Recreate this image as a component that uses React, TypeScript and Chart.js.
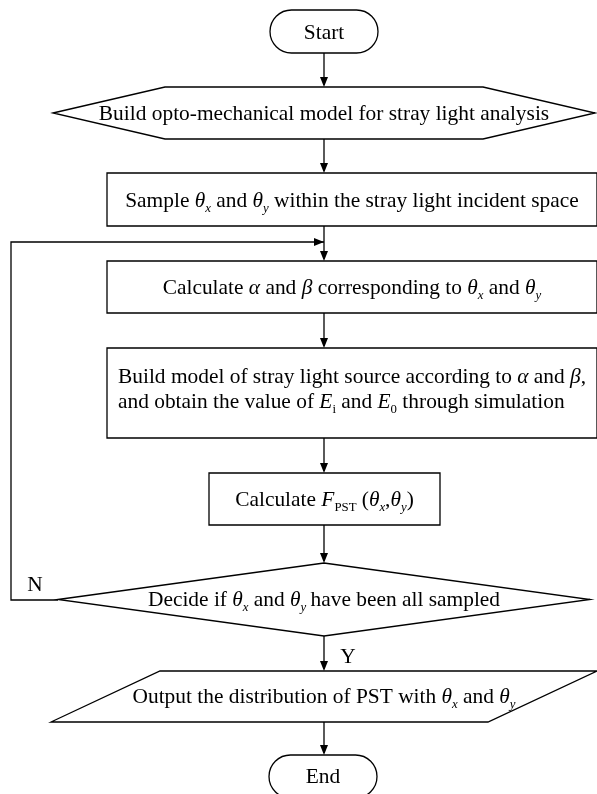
import React, { useEffect, useRef } from "react";
import { Chart, registerables } from "chart.js";
Chart.register(...registerables);

type Seg = { t: string; it?: boolean; sub?: boolean };

const W = 597;
const H = 794;
const FONT = '"Liberation Serif", "Times New Roman", serif';
const FS = 21.4;

// ---- flowchart content ----
const nodeShapes = ["terminal", "hexagon", "rect", "rect", "rect", "rect", "diamond", "parallelogram", "terminal"];

const th = (s: string): Seg[] => [{ t: "θ", it: true }, { t: s, it: true, sub: true }];

const nodeLabels: Seg[][][] = [
  [[{ t: "Start" }]],
  [[{ t: "Build opto-mechanical model for stray light analysis" }]],
  [[{ t: "Sample " }, ...th("x"), { t: " and " }, ...th("y"), { t: " within the stray light incident space" }]],
  [[{ t: "Calculate " }, { t: "α", it: true }, { t: " and " }, { t: "β", it: true }, { t: " corresponding to " }, ...th("x"), { t: " and " }, ...th("y")]],
  [
    [{ t: "Build model of stray light source according to " }, { t: "α", it: true }, { t: " and " }, { t: "β", it: true }, { t: "," }],
    [{ t: "and obtain the value of " }, { t: "E", it: true }, { t: "i", sub: true }, { t: " and " }, { t: "E", it: true }, { t: "0", sub: true }, { t: " through simulation" }],
  ],
  [[{ t: "Calculate " }, { t: "F", it: true }, { t: "PST", sub: true }, { t: " (" }, ...th("x"), { t: "," }, ...th("y"), { t: ")" }]],
  [[{ t: "Decide if " }, ...th("x"), { t: " and " }, ...th("y"), { t: "\u2009have been all sampled" }]],
  [[{ t: "Output the distribution of PST with " }, ...th("x"), { t: " and " }, ...th("y")]],
  [[{ t: "End" }]],
];

// ---- layout (chart value units) ----
const nodeLeft = [270, 53, 107, 107, 107, 209, 58, 51, 269];
const nodeRight = [378, 595, 597, 597, 597, 440, 590, 597, 377];
const nodeTop = [10, 87, 173, 261, 348, 473, 563, 671, 755];
const nodeBottom = [53, 139, 226, 313, 438, 525, 636, 722, 799];
const nodeTextY = [32, 113, 200, 287, 376, 499, 599, 696, 776];
const hexInset = [0, 112, 0, 0, 0, 0, 0, 109, 0];
const LINE_GAP = 25;
const FLOW_X = 324;

const loopPath: [number, number][] = [[58, 600], [11, 600], [11, 242], [324, 242]];
const edgeLabels: { t: string; x: number; y: number }[] = [
  { t: "N", x: 35, y: 584 },
  { t: "Y", x: 348, y: 656 },
];

function measure(ctx: CanvasRenderingContext2D, segs: Seg[], fs: number) {
  const parts = segs.map((s) => {
    const size = s.sub ? fs * 0.6 : fs;
    const font = `${s.it ? "italic " : ""}${size.toFixed(1)}px ${FONT}`;
    ctx.font = font;
    return { ...s, font, w: ctx.measureText(s.t).width };
  });
  return { parts, total: parts.reduce((a, p) => a + p.w, 0) };
}

function drawRich(ctx: CanvasRenderingContext2D, segs: Seg[], left: number, cy: number, fs: number) {
  const { parts } = measure(ctx, segs, fs);
  let x = left;
  const base = cy + fs * 0.34;
  ctx.textAlign = "left";
  ctx.textBaseline = "alphabetic";
  for (const p of parts) {
    ctx.font = p.font;
    ctx.fillText(p.t, x, base + (p.sub ? fs * 0.2 : 0));
    x += p.w;
  }
}

function arrowHead(ctx: CanvasRenderingContext2D, x: number, y: number, dx: number, dy: number) {
  const L = 10, Wd = 4;
  const px = -dy, py = dx;
  ctx.beginPath();
  ctx.moveTo(x, y);
  ctx.lineTo(x - dx * L + px * Wd, y - dy * L + py * Wd);
  ctx.lineTo(x - dx * L - px * Wd, y - dy * L - py * Wd);
  ctx.closePath();
  ctx.fill();
}

const flowPlugin = {
  id: "flow",
  afterDraw(chart: any) {
    const ctx: CanvasRenderingContext2D = chart.ctx;
    const sx = chart.scales.x, sy = chart.scales.y;
    const X = (v: number) => sx.getPixelForValue(v);
    const Y = (v: number) => sy.getPixelForValue(v);
    ctx.save();
    ctx.strokeStyle = "#000";
    ctx.fillStyle = "#000";
    ctx.lineWidth = 1.3;
    const cx = X(FLOW_X);

    nodeShapes.forEach((shape, i) => {
      const l = X(nodeLeft[i]), r = X(nodeRight[i]), t = Y(nodeTop[i]), b = Y(nodeBottom[i]);
      const m = (t + b) / 2;
      ctx.beginPath();
      if (shape === "rect") {
        ctx.rect(l, t, r - l, b - t);
      } else if (shape === "terminal") {
        const rad = (Y(nodeBottom[0]) - Y(nodeTop[0])) / 2;
        ctx.moveTo(l + rad, t);
        ctx.lineTo(r - rad, t);
        ctx.arc(r - rad, t + rad, rad, -Math.PI / 2, Math.PI / 2);
        ctx.lineTo(l + rad, t + 2 * rad);
        ctx.arc(l + rad, t + rad, rad, Math.PI / 2, Math.PI * 1.5);
        ctx.closePath();
      } else if (shape === "hexagon") {
        const ins = X(hexInset[i]) - X(0);
        ctx.moveTo(l, m);
        ctx.lineTo(l + ins, t);
        ctx.lineTo(r - ins, t);
        ctx.lineTo(r, m);
        ctx.lineTo(r - ins, b);
        ctx.lineTo(l + ins, b);
        ctx.closePath();
      } else if (shape === "diamond") {
        ctx.moveTo(l, m);
        ctx.lineTo(cx, t);
        ctx.lineTo(r, m);
        ctx.lineTo(cx, b);
        ctx.closePath();
      } else if (shape === "parallelogram") {
        const ins = X(hexInset[i]) - X(0);
        ctx.moveTo(l + ins, t);
        ctx.lineTo(r, t);
        ctx.lineTo(r - ins, b);
        ctx.lineTo(l, b);
        ctx.closePath();
      }
      ctx.stroke();
    });

    for (let i = 0; i < nodeShapes.length - 1; i++) {
      const y0 = Y(nodeBottom[i]), y1 = Y(nodeTop[i + 1]);
      ctx.beginPath();
      ctx.moveTo(cx, y0);
      ctx.lineTo(cx, y1 - 2);
      ctx.stroke();
      arrowHead(ctx, cx, y1, 0, 1);
    }

    ctx.beginPath();
    loopPath.forEach(([a, b], k) => {
      if (k === 0) ctx.moveTo(X(a), Y(b));
      else ctx.lineTo(X(a), Y(b));
    });
    ctx.stroke();
    const last = loopPath[loopPath.length - 1];
    arrowHead(ctx, X(last[0]), Y(last[1]), 1, 0);

    // text: block centred in shape, lines left-aligned within block
    nodeLabels.forEach((lines, i) => {
      const mid = (X(nodeLeft[i]) + X(nodeRight[i])) / 2;
      const widths = lines.map((segs) => measure(ctx, segs, FS).total);
      const blockW = Math.max(...widths);
      const left = mid - blockW / 2;
      lines.forEach((segs, k) => {
        const lx = lines.length > 1 ? left : mid - widths[k] / 2;
        drawRich(ctx, segs, lx, Y(nodeTextY[i] + k * LINE_GAP), FS);
      });
    });
    edgeLabels.forEach((e) => {
      const w = measure(ctx, [{ t: e.t }], FS).total;
      drawRich(ctx, [{ t: e.t }], X(e.x) - w / 2, Y(e.y), FS);
    });
    ctx.restore();
  },
};

export default function App() {
  const ref = useRef<HTMLCanvasElement | null>(null);
  useEffect(() => {
    if (!ref.current) return;
    const chart = new Chart(ref.current, {
      type: "scatter",
      data: {
        datasets: [
          {
            data: nodeTextY.map((y) => ({ x: FLOW_X, y })),
            pointRadius: 0,
            showLine: false,
          },
        ],
      },
      options: {
        animation: false,
        responsive: false,
        devicePixelRatio: 1,
        layout: { padding: 0 },
        events: [],
        plugins: { legend: { display: false }, tooltip: { enabled: false } },
        scales: {
          x: { type: "linear", min: 0, max: W, display: false },
          y: { type: "linear", min: 0, max: H, reverse: true, display: false },
        },
      },
      plugins: [flowPlugin],
    });
    return () => chart.destroy();
  }, []);
  return (
    <div style={{ position: "fixed", left: 0, top: 0, width: W, height: H, background: "#fff" }}>
      <canvas ref={ref} width={W} height={H} style={{ width: W, height: H, display: "block" }} />
    </div>
  );
}
